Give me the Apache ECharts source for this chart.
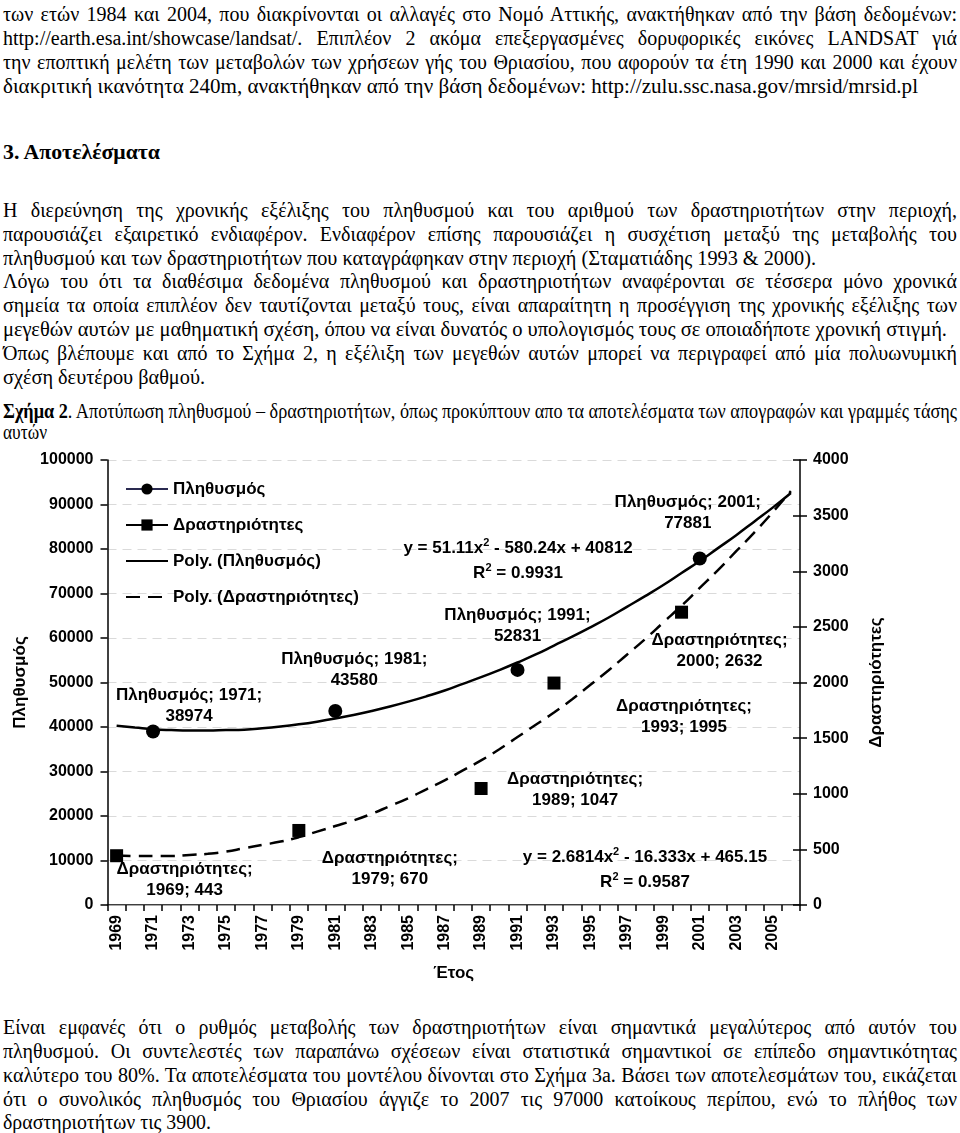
<!DOCTYPE html>
<html lang="el">
<head>
<meta charset="utf-8">
<title>Σχήμα 2</title>
<script src="https://cdn.jsdelivr.net/npm/echarts@6.0.0/dist/echarts.min.js"></script>
<style>
html,body{margin:0;padding:0;background:#fff;}
body{position:relative;width:960px;height:1133px;overflow:hidden;font-family:'Liberation Serif','DejaVu Serif',serif;color:#000;}
.ln{position:absolute;left:3px;width:954px;height:24px;line-height:24px;font-size:20px;white-space:nowrap;}
.ln span{display:inline-block;transform-origin:0 50%;}
.hd{font-weight:bold;font-size:21px;}
#chart{position:absolute;left:0;top:440px;width:960px;height:560px;}
</style>
</head>
<body>
<div id="text"></div>
<div id="chart"></div>
<script>
// ---------- chart data ----------
const years = ['1969','1970','1971','1972','1973','1974','1975','1976','1977','1978','1979','1980','1981','1982','1983','1984','1985','1986','1987','1988','1989','1990','1991','1992','1993','1994','1995','1996','1997','1998','1999','2000','2001','2002','2003','2004','2005','2006'];
const popYears = ['1971','1981','1991','2001'];
const popValues = [38974, 43580, 52831, 77881];
const actYears = ['1969','1979','1989','1993','2000'];
const actValues = [443, 670, 1047, 1995, 2632];
// trend curves, one value per year 1969..2006
const popTrend = [40300,39900,39500,39300,39200,39200,39300,39400,39700,40100,40600,41200,41900,42700,43600,44600,45700,46900,48200,49700,51200,52800,54500,56300,58300,60300,62400,64600,67000,69400,71900,74600,77300,80200,83100,86200,89300,92600];
const actTrend = [450,440,440,440,450,460,480,510,540,570,610,660,710,760,820,890,960,1040,1120,1210,1300,1400,1510,1620,1730,1850,1980,2110,2250,2390,2540,2690,2850,3010,3180,3350,3530,3720];
const popAxis = {min: 0, max: 100000, interval: 10000};
const actAxis = {min: 0, max: 4000, interval: 500};
const seriesNames = ['Πληθυσμός', 'Δραστηριότητες', 'Poly. (Πληθυσμός)', 'Poly. (Δραστηριότητες)'];
const eq1 = ['y = 51.11x{s|2} - 580.24x + 40812', 'R{s|2} = 0.9931'];
const eq2 = ['y = 2.6814x{s|2} - 16.333x + 465.15', 'R{s|2} = 0.9587'];

// ---------- page text ----------
const textLines = [
  {y: 14, j: 1, h: 'των ετών 1984 και 2004, που διακρίνονται οι αλλαγές στο Νομό Αττικής, ανακτήθηκαν από την βάση δεδομένων:'},
  {y: 38, j: 1, h: 'http://earth.esa.int/showcase/landsat/. Επιπλέον 2 ακόμα επεξεργασμένες δορυφορικές εικόνες LANDSAT γιά'},
  {y: 62, j: 1, h: 'την εποπτική μελέτη των μεταβολών των χρήσεων γής του Θριασίου, που αφορούν τα έτη 1990 και 2000 και έχουν'},
  {y: 86, w: 915, h: 'διακριτική ικανότητα 240m, ανακτήθηκαν από την βάση δεδομένων: http://zulu.ssc.nasa.gov/mrsid/mrsid.pl'},
  {y: 152, w: 157, c: 'hd', h: '3. Αποτελέσματα'},
  {y: 210, j: 1, h: 'Η διερεύνηση της χρονικής εξέλιξης του πληθυσμού και του αριθμού των δραστηριοτήτων στην περιοχή,'},
  {y: 234, j: 1, h: 'παρουσιάζει εξαιρετικό ενδιαφέρον. Ενδιαφέρον επίσης παρουσιάζει η συσχέτιση μεταξύ της μεταβολής του'},
  {y: 258, w: 813, h: 'πληθυσμού και των δραστηριοτήτων που καταγράφηκαν στην περιοχή (Σταματιάδης 1993 &amp; 2000).'},
  {y: 281, j: 1, h: 'Λόγω του ότι τα διαθέσιμα δεδομένα πληθυσμού και δραστηριοτήτων αναφέρονται σε τέσσερα μόνο χρονικά'},
  {y: 305, j: 1, h: 'σημεία τα οποία επιπλέον δεν ταυτίζονται μεταξύ τους, είναι απαραίτητη η προσέγγιση της χρονικής εξέλιξης των'},
  {y: 329, w: 944, h: 'μεγεθών αυτών με μαθηματική σχέση, όπου να είναι δυνατός ο υπολογισμός τους σε οποιαδήποτε χρονική στιγμή.'},
  {y: 353, j: 1, h: 'Όπως βλέπουμε και από το Σχήμα 2, η εξέλιξη των μεγεθών αυτών μπορεί να περιγραφεί από μία πολυωνυμική'},
  {y: 377, w: 202, h: 'σχέση δευτέρου βαθμού.'},
  {y: 411, j: 1, h: '<b>Σχήμα 2</b>. Αποτύπωση πληθυσμού – δραστηριοτήτων, όπως προκύπτουν απο τα αποτελέσματα των απογραφών και γραμμές τάσης'},
  {y: 432, w: 44, h: 'αυτών'},
  {y: 1027, j: 1, h: 'Είναι εμφανές ότι ο ρυθμός μεταβολής των δραστηριοτήτων είναι σημαντικά μεγαλύτερος από αυτόν του'},
  {y: 1051, j: 1, h: 'πληθυσμού. Οι συντελεστές των παραπάνω σχέσεων είναι στατιστικά σημαντικοί σε επίπεδο σημαντικότητας'},
  {y: 1075, j: 1, h: 'καλύτερο του 80%. Τα αποτελέσματα του μοντέλου δίνονται στο Σχήμα 3a. Βάσει των αποτελεσμάτων του, εικάζεται'},
  {y: 1099, j: 1, h: 'ότι ο συνολικός πληθυσμός του Θριασίου άγγιζε το 2007 τις 97000 κατοίκους περίπου, ενώ το πλήθος των'},
  {y: 1122, w: 208, h: 'δραστηριοτήτων τις 3900.'}
];

const FULL_W = 954;
const holder = document.getElementById('text');
textLines.forEach(function (l) {
  const d = document.createElement('div');
  d.className = 'ln' + (l.c ? ' ' + l.c : '');
  d.style.top = (l.y - 12) + 'px';
  d.dataset.j = l.j ? '1' : '0';
  d.dataset.w = l.j ? FULL_W : l.w;
  d.innerHTML = '<span>' + l.h + '</span>';
  holder.appendChild(d);
});
function fitLines() {
  document.querySelectorAll('.ln').forEach(function (d) {
    const s = d.firstChild;
    d.style.whiteSpace = 'nowrap';
    d.style.textAlign = 'left';
    d.style.textAlignLast = 'auto';
    s.style.display = 'inline-block';
    s.style.transform = 'none';
    const w = s.getBoundingClientRect().width;
    const target = +d.dataset.w;
    if (d.dataset.j === '1' && w <= target - 2) {
      s.style.display = 'inline';
      d.style.whiteSpace = 'normal';
      d.style.textAlign = 'justify';
      d.style.textAlignLast = 'justify';
    } else {
      s.style.transform = 'scaleX(' + (target / w) + ')';
    }
  });
}
fitLines();
if (document.fonts && document.fonts.ready) document.fonts.ready.then(fitLines);

// ---------- chart ----------
const F = '"Liberation Sans", Arial, Helvetica, sans-serif';
const popLabelOffsets = [[36, -26], [19, -41], [0, -44], [-12, -46]];
const actLabelOffsets = [[68, 24], [91, 38], [94, 1], [130, 34], [38, 39]];

function markerData(yrs, vals, offs) {
  return years.map(function (y) {
    const i = yrs.indexOf(y);
    if (i < 0) return '-';
    return {value: vals[i], label: {offset: offs[i]}};
  });
}
function labelStyle(fmt) {
  return {
    show: true, position: 'inside', color: '#000', fontFamily: F, fontSize: 17, fontWeight: 'bold',
    lineHeight: 21, align: 'center', verticalAlign: 'middle', textBorderWidth: 0,
    formatter: fmt
  };
}
const axisTxt = {color: '#000', fontFamily: F, fontSize: 16, fontWeight: 'bold'};
const nameTxt = {color: '#000', fontFamily: F, fontSize: 17, fontWeight: 'bold'};
const blackLine = {lineStyle: {color: '#000', width: 1.5}};

function eqText(lines, cx, cy) {
  return lines.map(function (t, k) {
    return {
      type: 'text', x: cx, y: cy + k * 25, z: 50,
      style: {
        text: t, fill: '#000', fontFamily: F, fontSize: 17, fontWeight: 'bold',
        align: 'center', verticalAlign: 'middle', lineHeight: 21,
        rich: {s: {fontSize: 11, fontWeight: 'bold', fontFamily: F, fill: '#000', color: '#000', verticalAlign: 'top', lineHeight: 21}}
      }
    };
  });
}

const option = {
  animation: false,
  textStyle: {fontFamily: F},
  grid: {left: 107.5, right: 160, top: 20, bottom: 95},
  legend: {
    orient: 'vertical', left: 120, top: 34, itemWidth: 42, itemHeight: 14, itemGap: 16,
    textStyle: {color: '#000', fontFamily: F, fontSize: 17, fontWeight: 'bold', lineHeight: 20},
    data: [
      {name: seriesNames[0]},
      {name: seriesNames[1]},
      {name: seriesNames[2], itemStyle: {opacity: 0}},
      {name: seriesNames[3], itemStyle: {opacity: 0}}
    ]
  },
  xAxis: [
    {
      type: 'category', data: years, boundaryGap: true, position: 'bottom',
      axisLine: blackLine,
      axisTick: {show: true, interval: 0, length: 6, lineStyle: {color: '#000', width: 1.5}},
      axisLabel: Object.assign({interval: 1, rotate: 90, margin: 10}, axisTxt),
      splitLine: {show: false},
      name: 'Έτος', nameLocation: 'middle', nameGap: 60, nameTextStyle: nameTxt
    },
    {
      type: 'category', data: years, boundaryGap: true, position: 'top',
      axisLine: {lineStyle: {color: '#a8a8a8', width: 1}},
      axisTick: {show: false}, axisLabel: {show: false}, splitLine: {show: false}
    }
  ],
  yAxis: [
    {
      type: 'value', position: 'left', min: popAxis.min, max: popAxis.max, interval: popAxis.interval,
      axisLine: Object.assign({show: true}, blackLine),
      axisTick: {show: true, length: 7, lineStyle: {color: '#000', width: 1.5}},
      axisLabel: Object.assign({margin: 14, formatter: function (v) { return String(v); }}, axisTxt),
      splitLine: {show: true, lineStyle: {color: '#dadada', width: 1, type: [9, 6]}},
      name: 'Πληθυσμός', nameLocation: 'middle', nameRotate: 90, nameGap: 76, nameTextStyle: nameTxt
    },
    {
      type: 'value', position: 'right', min: actAxis.min, max: actAxis.max, interval: actAxis.interval,
      axisLine: Object.assign({show: true}, blackLine),
      axisTick: {show: true, length: 7, lineStyle: {color: '#000', width: 1.5}},
      axisLabel: Object.assign({margin: 13, formatter: function (v) { return String(v); }}, axisTxt),
      splitLine: {show: false},
      name: 'Δραστηριότητες', nameLocation: 'middle', nameRotate: 90, nameGap: 68, nameTextStyle: nameTxt
    },
    {
      type: 'value', position: 'right', min: actAxis.min, max: actAxis.max, interval: actAxis.interval,
      axisLine: {show: false},
      axisTick: {show: true, inside: true, length: 7, lineStyle: {color: '#000', width: 1.5}},
      axisLabel: {show: false}, splitLine: {show: false}
    }
  ],
  series: [
    {
      name: seriesNames[2], type: 'line', xAxisIndex: 0, yAxisIndex: 0, data: popTrend,
      smooth: true, symbol: 'none', showSymbol: false, z: 3,
      lineStyle: {color: '#000', width: 2.5}, itemStyle: {color: '#000'}
    },
    {
      name: seriesNames[3], type: 'line', xAxisIndex: 0, yAxisIndex: 1, data: actTrend,
      smooth: true, symbol: 'none', showSymbol: false, z: 3,
      lineStyle: {color: '#000', width: 2.5, type: [14, 8]}, itemStyle: {color: '#000'}
    },
    {
      name: seriesNames[0], type: 'line', xAxisIndex: 0, yAxisIndex: 0,
      data: markerData(popYears, popValues, popLabelOffsets),
      symbol: 'circle', symbolSize: 14, showSymbol: true, showAllSymbol: true, connectNulls: false, z: 5,
      itemStyle: {color: '#000'}, lineStyle: {color: '#2a2a50', width: 1.5},
      label: labelStyle(function (p) { return p.seriesName + '; ' + p.name + ';\n' + p.value; })
    },
    {
      name: seriesNames[1], type: 'line', xAxisIndex: 0, yAxisIndex: 1,
      data: markerData(actYears, actValues, actLabelOffsets),
      symbol: 'rect', symbolSize: 13, showSymbol: true, showAllSymbol: true, connectNulls: false, z: 5,
      itemStyle: {color: '#000'}, lineStyle: {color: '#000', width: 1.5},
      label: labelStyle(function (p) { return p.seriesName + ';\n' + p.name + '; ' + p.value; })
    }
  ],
  graphic: eqText(eq1, 518, 108).concat(eqText(eq2, 645, 417))
};

const chart = echarts.init(document.getElementById('chart'), null, {renderer: 'canvas'});
chart.setOption(option);
</script>
</body>
</html>
